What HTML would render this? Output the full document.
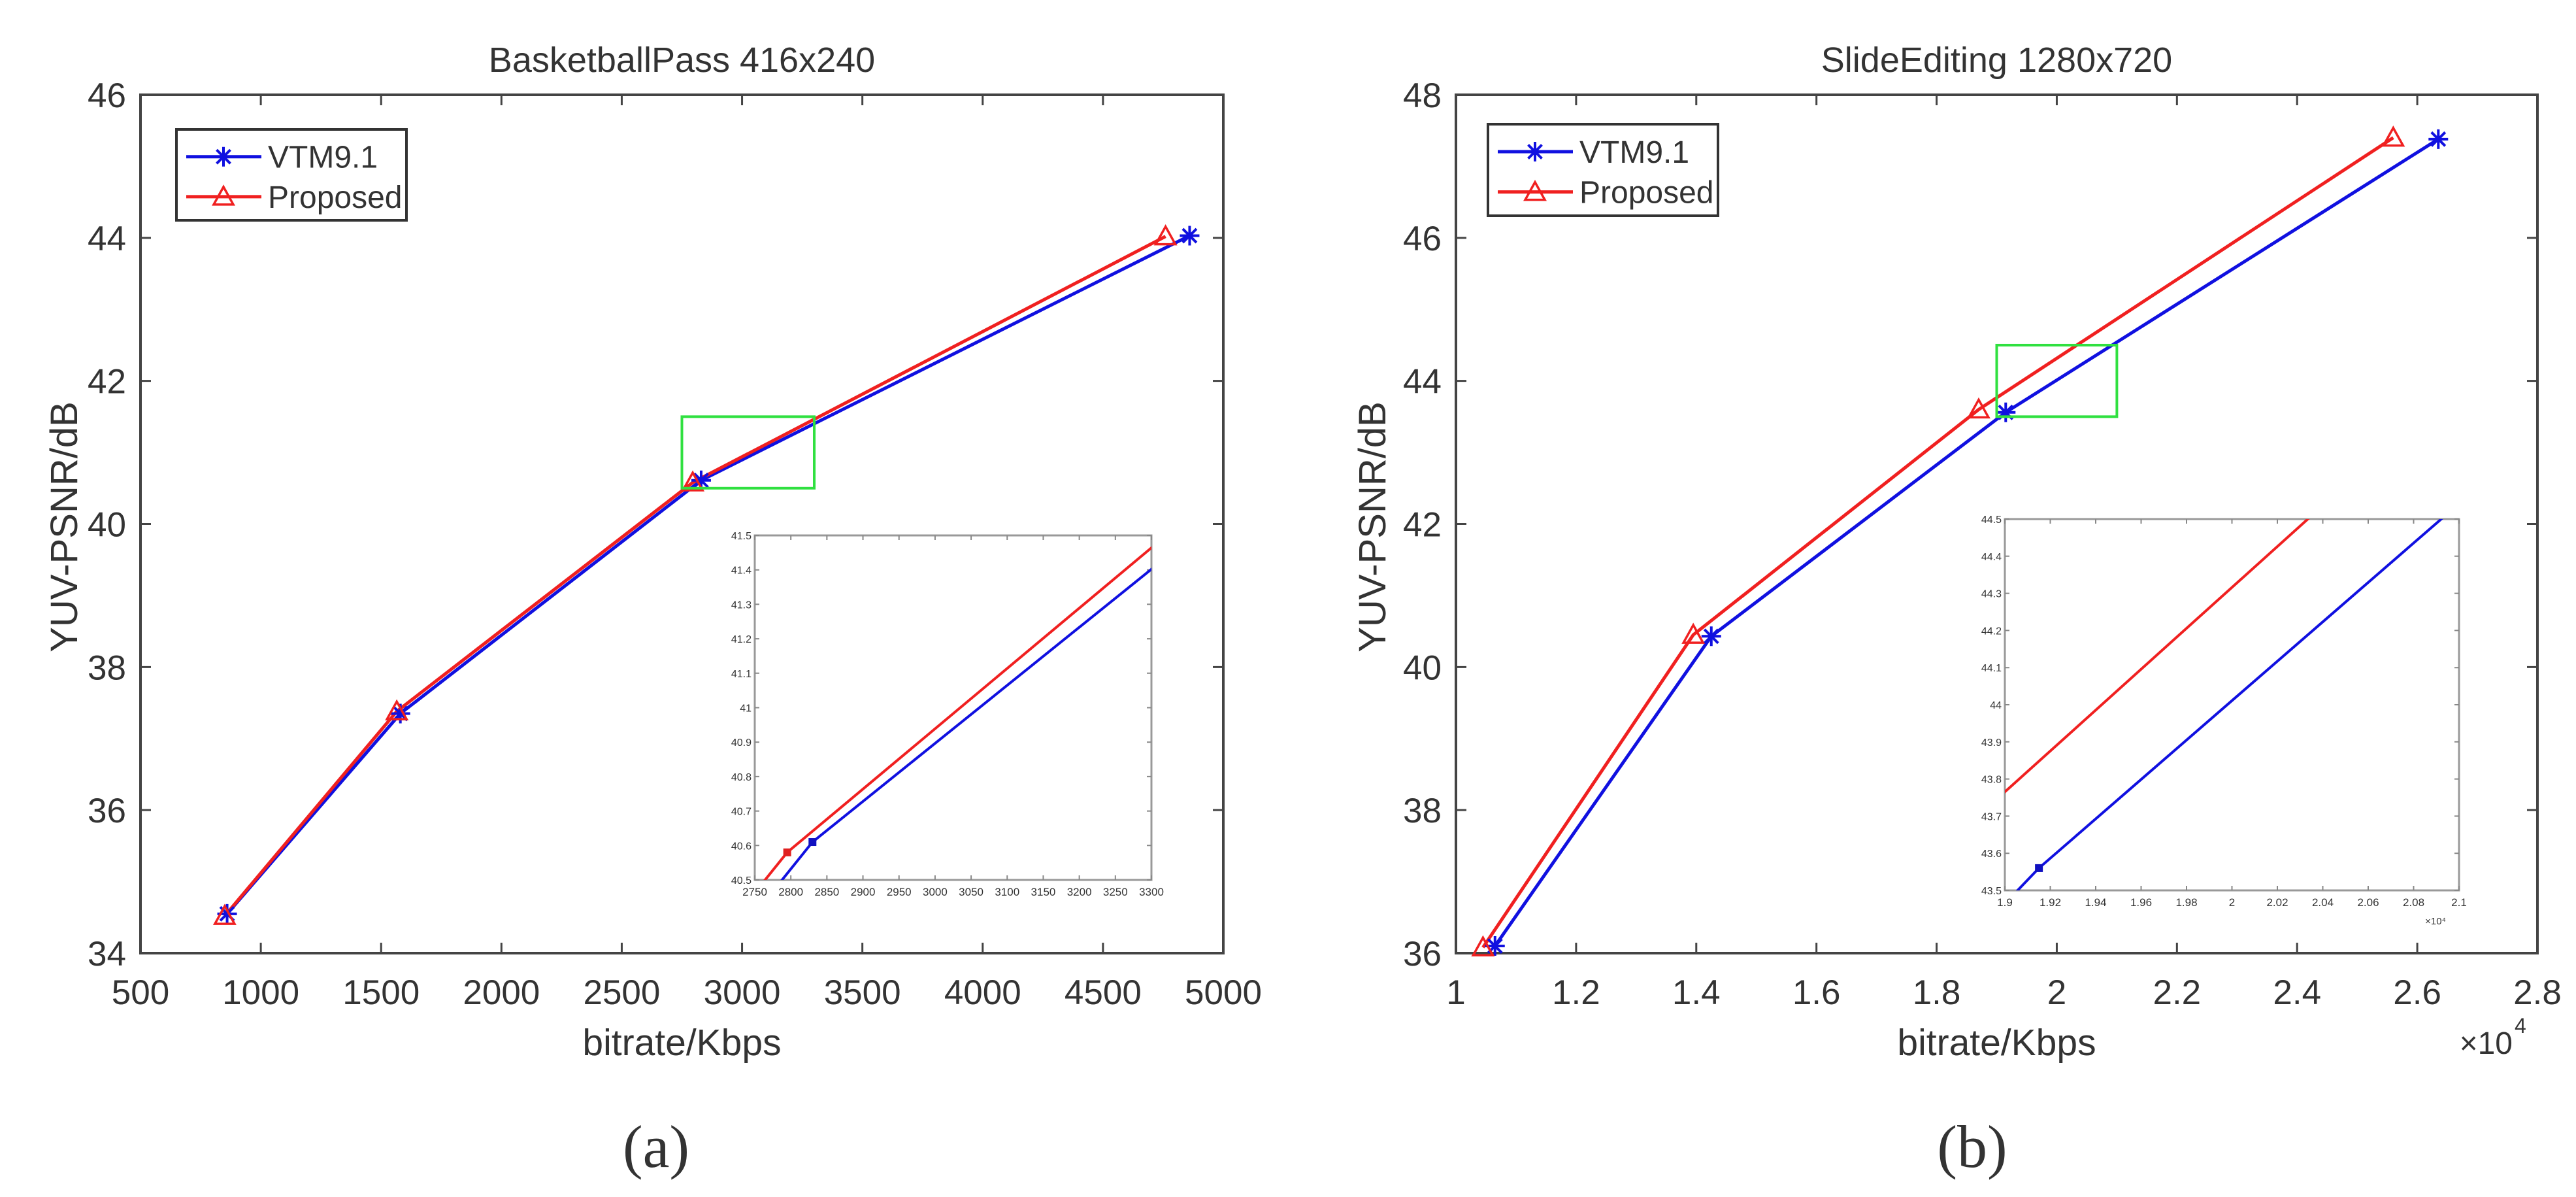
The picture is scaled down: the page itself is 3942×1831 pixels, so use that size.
<!DOCTYPE html>
<html><head><meta charset="utf-8"><style>
html,body{margin:0;padding:0;background:#fff;width:3942px;height:1831px;overflow:hidden}
svg{display:block}
text{font-family:"Liberation Sans",sans-serif;fill:#333}
</style></head><body>
<svg id="fig" width="3942" height="1831" viewBox="0 0 3942 1831" xmlns="http://www.w3.org/2000/svg"></svg>
<script>
// ---- data: plot (a) ----
const aVtmX = [860, 1580, 2830, 4860];
const aVtmY = [34.55, 37.35, 40.61, 44.03];
const aPropX = [850, 1565, 2795, 4760];
const aPropY = [34.52, 37.38, 40.58, 44.02];
const aXTicks = [500,1000,1500,2000,2500,3000,3500,4000,4500,5000];
const aYTicks = [34,36,38,40,42,44,46];
const aInsetXTicks = [2750,2800,2850,2900,2950,3000,3050,3100,3150,3200,3250,3300];
const aInsetYTicks = [40.5,40.6,40.7,40.8,40.9,41,41.1,41.2,41.3,41.4,41.5];
// ---- data: plot (b) ----
const bVtmX = [1.065, 1.425, 1.915, 2.635];
const bVtmY = [36.1, 40.43, 43.56, 47.38];
const bPropX = [1.045, 1.395, 1.87, 2.56];
const bPropY = [36.08, 40.45, 43.6, 47.4];
const bXTicks = [1,1.2,1.4,1.6,1.8,2,2.2,2.4,2.6,2.8];
const bYTicks = [36,38,40,42,44,46,48];
const bInsetXTicks = [1.9,1.92,1.94,1.96,1.98,2,2.02,2.04,2.06,2.08,2.1];
const bInsetYTicks = [43.5,43.6,43.7,43.8,43.9,44,44.1,44.2,44.3,44.4,44.5];

const NS = "http://www.w3.org/2000/svg";
const svg = document.getElementById('fig');
function el(tag, attrs, parent, txt){
  const e = document.createElementNS(NS, tag);
  for (const k in attrs) e.setAttribute(k, attrs[k]);
  if (txt !== undefined) e.textContent = txt;
  (parent || svg).appendChild(e);
  return e;
}
function scale(d0,d1,r0,r1){ return v => r0 + (v-d0)/(d1-d0)*(r1-r0); }

function clipRect(id, x, y, w, h){
  let defs = svg.querySelector('defs') || el('defs', {});
  const cp = el('clipPath', {id:id}, defs);
  el('rect', {x:x, y:y, width:w, height:h}, cp);
}

function star(g, x, y, s, color){
  const p = el('path', {d:`M${x-s} ${y}H${x+s}M${x} ${y-s}V${y+s}M${x-s*0.7} ${y-s*0.7}L${x+s*0.7} ${y+s*0.7}M${x-s*0.7} ${y+s*0.7}L${x+s*0.7} ${y-s*0.7}`, stroke:color, 'stroke-width':4, fill:'none'}, g);
  
  
}
function tri(g, x, y, s, color){
  const p = el('path', {d:`M${x} ${y-s}L${x+s} ${y+s*0.8}L${x-s} ${y+s*0.8}Z`, stroke:color, 'stroke-width':3.5, fill:'none'}, g);
  
  
}

function drawPlot(cfg){
  const g = el('g', {});
  
  
  const {L,R,T,B} = cfg;
  const sx = scale(cfg.xd[0], cfg.xd[1], L, R);
  const sy = scale(cfg.yd[0], cfg.yd[1], B, T);
  const t = el('text', {x:(L+R)/2, y:T-35, 'font-size':54, 'text-anchor':'middle'}, g, cfg.title);
  
  
  const box = el('rect', {x:L, y:T, width:R-L, height:B-T, fill:'none', stroke:'#444', 'stroke-width':4}, g);
  
  
  cfg.xTicks.forEach((v,i) => {
    const x = sx(v);
    el('path', {d:`M${x} ${B}V${B-16}M${x} ${T}V${T+16}`, stroke:'#444', 'stroke-width':3}, g);
    const lb = el('text', {x:x, y:1536, 'font-size':53, 'text-anchor':'middle'}, g, cfg.xLabels[i]);
    
    
  });
  cfg.yTicks.forEach(v => {
    const y = sy(v);
    el('path', {d:`M${L} ${y}H${L+16}M${R} ${y}H${R-16}`, stroke:'#444', 'stroke-width':3}, g);
    const lb = el('text', {x:L-22, y:y+19, 'font-size':53, 'text-anchor':'end'}, g, String(v));
    
    
  });
  const xl = el('text', {x:(L+R)/2, y:1614, 'font-size':57, 'text-anchor':'middle'}, g, 'bitrate/Kbps');
  
  
  const yx = cfg.yTitleX, yy = 806;
  const yl = el('text', {x:yx, y:yy, 'font-size':58, 'text-anchor':'middle', transform:`rotate(-90 ${yx} ${yy})`}, g, 'YUV-PSNR/dB');
  
  
  const pts = (xs,ys) => xs.map((x,i)=>`${sx(x)},${sy(ys[i])}`).join(' ');
  const lv = el('polyline', {points:pts(cfg.vx,cfg.vy), fill:'none', stroke:'#1010e0', 'stroke-width':5}, g);
  
  
  const lp = el('polyline', {points:pts(cfg.px,cfg.py), fill:'none', stroke:'#f02020', 'stroke-width':5}, g);
  
  
  cfg.vx.forEach((x,i)=>star(g, sx(x), sy(cfg.vy[i]), 15, '#1010e0'));
  cfg.px.forEach((x,i)=>tri(g, sx(x), sy(cfg.py[i]), 15, '#f02020'));
  const zr = el('rect', {x:sx(cfg.ix[0]), y:sy(cfg.iy[1]), width:sx(cfg.ix[1])-sx(cfg.ix[0]), height:sy(cfg.iy[0])-sy(cfg.iy[1]), fill:'none', stroke:'#30e040', 'stroke-width':4}, g);
  
  
  const [lx0,ly0,lx1,ly1] = cfg.leg;
  const lg = el('g', {}, g);
  
  
  el('rect', {x:lx0, y:ly0, width:lx1-lx0, height:ly1-ly0, fill:'#fff', stroke:'#333', 'stroke-width':4}, lg);
  const r1 = ly0 + (ly1-ly0)*0.3, r2 = ly0 + (ly1-ly0)*0.74;
  el('path', {d:`M${lx0+15} ${r1}H${lx0+130}`, stroke:'#1010e0', 'stroke-width':5}, lg);
  star(lg, lx0+72, r1, 15, '#1010e0');
  el('path', {d:`M${lx0+15} ${r2}H${lx0+130}`, stroke:'#f02020', 'stroke-width':5}, lg);
  tri(lg, lx0+72, r2, 15, '#f02020');
  const e1 = el('text', {x:lx0+140, y:r1+17, 'font-size':48}, lg, 'VTM9.1');
  
  
  const e2 = el('text', {x:lx0+140, y:r2+17, 'font-size':48}, lg, 'Proposed');
  
  
  const [iL,iT,iR,iB] = cfg.inset;
  const ig = el('g', {}, g);
  
  
  const isx = scale(cfg.ix[0], cfg.ix[1], iL, iR);
  const isy = scale(cfg.iy[0], cfg.iy[1], iB, iT);
  el('rect', {x:iL, y:iT, width:iR-iL, height:iB-iT, fill:'#fff', stroke:'#999', 'stroke-width':3}, ig);
  cfg.ixTicks.forEach(v => {
    const x = isx(v);
    el('path', {d:`M${x} ${iB}V${iB-7}M${x} ${iT}V${iT+7}`, stroke:'#888', 'stroke-width':2}, ig);
    el('text', {x:x, y:iB+24, 'font-size':17, 'text-anchor':'middle', fill:'#666'}, ig, String(v));
  });
  cfg.iyTicks.forEach(v => {
    const y = isy(v);
    el('path', {d:`M${iL} ${y}H${iL+7}M${iR} ${y}H${iR-7}`, stroke:'#888', 'stroke-width':2}, ig);
    el('text', {x:iL-5, y:y+6, 'font-size':16, 'text-anchor':'end', fill:'#666'}, ig, String(v));
  });
  if (cfg.iExp) el('text', {x:iR-20, y:iB+52, 'font-size':15, 'text-anchor':'end', fill:'#666'}, ig, '×10⁴');
  clipRect(cfg.name+'-clip', iL, iT, iR-iL, iB-iT);
  const cg = el('g', {'clip-path':`url(#${cfg.name}-clip)`}, ig);
  const ipts = (xs,ys) => xs.map((x,i)=>`${isx(x)},${isy(ys[i])}`).join(' ');
  el('polyline', {points:ipts(cfg.vx,cfg.vy), fill:'none', stroke:'#1010e0', 'stroke-width':4}, cg);
  el('polyline', {points:ipts(cfg.px,cfg.py), fill:'none', stroke:'#f02020', 'stroke-width':4}, cg);
  cfg.vx.forEach((x,i)=>el('rect', {x:isx(x)-6, y:isy(cfg.vy[i])-6, width:12, height:12, fill:'#1010c0'}, cg));
  cfg.px.forEach((x,i)=>el('rect', {x:isx(x)-6, y:isy(cfg.py[i])-6, width:12, height:12, fill:'#e02020'}, cg));
}

drawPlot({name:'plot-a', L:215, R:1872, T:145, B:1458, xd:[500,5000], yd:[34,46],
  title:'BasketballPass 416x240', xTicks:aXTicks, xLabels:aXTicks.map(String), yTicks:aYTicks, yTitleX:118,
  vx:aVtmX, vy:aVtmY, px:aPropX, py:aPropY, ix:[2750,3300], iy:[40.5,41.5],
  leg:[270,198,622,337], inset:[1155,819,1762,1346], ixTicks:aInsetXTicks, iyTicks:aInsetYTicks, iExp:false});
drawPlot({name:'plot-b', L:2228, R:3883, T:145, B:1458, xd:[1,2.8], yd:[36,48],
  title:'SlideEditing 1280x720', xTicks:bXTicks, xLabels:bXTicks.map(String), yTicks:bYTicks, yTitleX:2120,
  vx:bVtmX, vy:bVtmY, px:bPropX, py:bPropY, ix:[1.9,2.1], iy:[43.5,44.5],
  leg:[2277,190,2629,330], inset:[3068,794,3763,1362], ixTicks:bInsetXTicks, iyTicks:bInsetYTicks, iExp:true});

const ex = el('text', {x:3845, y:1612, 'font-size':48, 'text-anchor':'end', fill:'#555'}, svg, '×10');


el('text', {x:3848, y:1580, 'font-size':32, fill:'#555'}, svg, '4');
const ca = el('text', {x:1004, y:1785, 'font-size':92, 'text-anchor':'middle', style:'font-family:"Liberation Serif",serif', fill:'#111'}, svg, '(a)');


const cb = el('text', {x:3018, y:1785, 'font-size':92, 'text-anchor':'middle', style:'font-family:"Liberation Serif",serif', fill:'#111'}, svg, '(b)');


</script>
</body></html>
